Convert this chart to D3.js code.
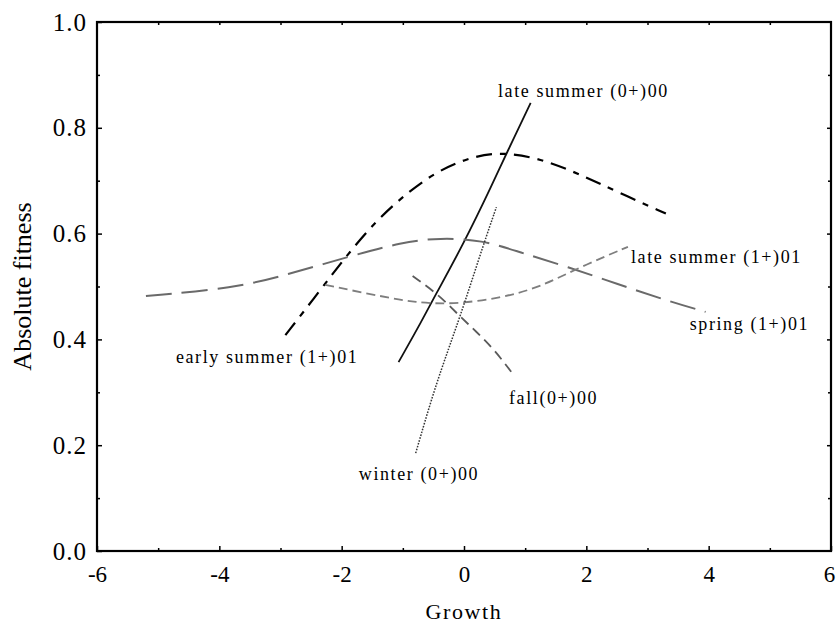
<!DOCTYPE html>
<html>
<head>
<meta charset="utf-8">
<script src="https://cdn.jsdelivr.net/npm/d3@7"></script>
<style>
  html, body { margin: 0; padding: 0; background: #fff; }
  svg { display: block; font-family: "Liberation Serif", "Times New Roman", serif; }
  .axis path { display: none; }
  .axis line { stroke: #000; stroke-width: 1.5; }
  .axis text { fill: #000; font-family: "Liberation Serif", "Times New Roman", serif; }
  .x-axis text { font-size: 23px; }
  .y-axis text { font-size: 25px; letter-spacing: 1px; }
</style>
</head>
<body>
<div id="chart"></div>
<script>
'use strict';

// values (Growth -> Absolute fitness)
const lateSummer00X = [-1.07, -0.68, -0.5, 0.0, 0.47, 0.68, 1.09];
const lateSummer00Y = [0.357, 0.437, 0.477, 0.582, 0.695, 0.748, 0.847];

const earlySummer01X = [-2.92, -2.35, -1.91, -1.42, -1.0, -0.5, 0.05, 0.6, 1.25, 1.9, 2.5, 3.3];
const earlySummer01Y = [0.408, 0.493, 0.56, 0.626, 0.67, 0.714, 0.743, 0.755, 0.742, 0.712, 0.679, 0.638];

const spring01X = [-5.2, -3.75, -2.9, -1.9, -1.0, -0.4, 0.3, 0.9, 1.7, 2.5, 3.3, 3.95];
const spring01Y = [0.482, 0.497, 0.522, 0.556, 0.584, 0.592, 0.588, 0.565, 0.537, 0.505, 0.474, 0.452];

const lateSummer01X = [-2.27, -1.3, -0.8, -0.2, 0.6, 1.25, 1.9, 2.68];
const lateSummer01Y = [0.503, 0.48, 0.47, 0.466, 0.478, 0.499, 0.537, 0.575];

const fall00X = [-0.84, -0.4, -0.1, 0.2, 0.5, 0.81];
const fall00Y = [0.52, 0.483, 0.447, 0.415, 0.38, 0.333];

const winter00X = [-0.79, -0.5, -0.25, 0.0, 0.32, 0.53];
const winter00Y = [0.185, 0.3, 0.383, 0.465, 0.58, 0.65];

const xTicks = [-6, -4, -2, 0, 2, 4, 6];
const yTicks = [0.0, 0.2, 0.4, 0.6, 0.8, 1.0];

const seriesNames = ['late summer (0+)00', 'early summer (1+)01', 'spring (1+)01',
  'late summer (1+)01', 'fall(0+)00', 'winter (0+)00'];

(function(d3){
  let width = 836, height = 625;
  let margin = {top: 22, right: 5, bottom: 74, left: 97};

  let x = d3.scaleLinear().domain([-6, 6]).range([margin.left, width - margin.right]);
  let y = d3.scaleLinear().domain([0, 1]).range([height - margin.bottom, margin.top]);

  let svg = d3.select('#chart').append('svg')
    .attr('width', width)
    .attr('height', height);

  function zip(xs, ys){
    return xs.map(function(v, i){ return {x: v, y: ys[i]}; });
  }

  let series = [
    {name: seriesNames[0], data: zip(lateSummer00X, lateSummer00Y), color: '#111', w: 1.8, dash: null,
      label: {x: 0.556, y: 0.858}},
    {name: seriesNames[1], data: zip(earlySummer01X, earlySummer01Y), color: '#000', w: 2.2, dash: '16,8,6,8',
      label: {x: -4.71, y: 0.355}},
    {name: seriesNames[2], data: zip(spring01X, spring01Y), color: '#6a6a6a', w: 2, dash: '26,10',
      label: {x: 3.69, y: 0.418}},
    {name: seriesNames[3], data: zip(lateSummer01X, lateSummer01Y), color: '#7e7e7e', w: 1.8, dash: '9,5',
      label: {x: 2.73, y: 0.544}},
    {name: seriesNames[4], data: zip(fall00X, fall00Y), color: '#5a5a5a', w: 1.8, dash: '10,6',
      label: {x: 0.736, y: 0.278}},
    {name: seriesNames[5], data: zip(winter00X, winter00Y), color: '#333', w: 1.5, dash: '1.6,1.4',
      label: {x: -1.72, y: 0.134}}
  ];

  let line = d3.line()
    .x(function(d){ return x(d.x); })
    .y(function(d){ return y(d.y); })
    .curve(d3.curveBasis);

  // hyphen instead of unicode minus, like the original
  let fmtX = function(d){ return String(d); };

  // minor / major ticks, all pointing inward
  let bottomMinor = d3.range(-5, 6, 2);
  let leftMinor = d3.range(0.1, 1, 0.2);

  let xAxis = svg.append('g').attr('class', 'axis x-axis')
    .attr('transform', 'translate(0,' + y(0) + ')')
    .call(d3.axisBottom(x).tickValues(xTicks).tickSize(-5).tickPadding(15).tickFormat(fmtX));
  // last label sits right on the page edge
  xAxis.selectAll('.tick text').filter(function(d){ return d === 6; }).attr('dx', -2);

  svg.append('g').attr('class', 'axis')
    .attr('transform', 'translate(0,' + y(0) + ')')
    .call(d3.axisBottom(x).tickValues(bottomMinor).tickSize(-3).tickFormat(''));
  svg.append('g').attr('class', 'axis')
    .attr('transform', 'translate(0,' + y(1) + ')')
    .call(d3.axisTop(x).tickValues(d3.range(-5, 6, 1)).tickSize(-3).tickFormat(''));

  svg.append('g').attr('class', 'axis y-axis')
    .attr('transform', 'translate(' + x(-6) + ',0)')
    .call(d3.axisLeft(y).tickValues(yTicks).tickSize(-5).tickPadding(10)
      .tickFormat(d3.format('.1f')));
  svg.append('g').attr('class', 'axis')
    .attr('transform', 'translate(' + x(-6) + ',0)')
    .call(d3.axisLeft(y).tickValues(leftMinor).tickSize(-3).tickFormat(''));
  svg.append('g').attr('class', 'axis')
    .attr('transform', 'translate(' + x(6) + ',0)')
    .call(d3.axisRight(y).tickValues(yTicks.slice(1, -1)).tickSize(-4).tickFormat(''));
  svg.append('g').attr('class', 'axis')
    .attr('transform', 'translate(' + x(6) + ',0)')
    .call(d3.axisRight(y).tickValues(leftMinor).tickSize(-3).tickFormat(''));

  // frame
  svg.append('rect')
    .attr('x', x(-6))
    .attr('y', y(1))
    .attr('width', x(6) - x(-6))
    .attr('height', y(0) - y(1))
    .attr('fill', 'none')
    .attr('stroke', '#000')
    .attr('stroke-width', 2.2);

  svg.append('g').selectAll('path')
    .data(series)
    .enter().append('path')
    .attr('d', function(d){ return line(d.data); })
    .attr('fill', 'none')
    .attr('stroke', function(d){ return d.color; })
    .attr('stroke-width', function(d){ return d.w; })
    .attr('stroke-dasharray', function(d){ return d.dash; });

  svg.append('g').selectAll('text')
    .data(series)
    .enter().append('text')
    .attr('x', function(d){ return x(d.label.x); })
    .attr('y', function(d){ return y(d.label.y); })
    .style('font-size', '18px')
    .style('letter-spacing', '1.6px')
    .text(function(d){ return d.name; });

  svg.append('text')
    .attr('x', x(0))
    .attr('y', 619)
    .attr('text-anchor', 'middle')
    .style('font-size', '22px')
    .style('letter-spacing', '1.6px')
    .text('Growth');

  svg.append('text')
    .attr('transform', 'translate(31,' + y(0.5) + ') rotate(-90)')
    .attr('text-anchor', 'middle')
    .style('font-size', '26px')
    .text('Absolute fitness');
})(window.d3);
</script>
</body>
</html>
